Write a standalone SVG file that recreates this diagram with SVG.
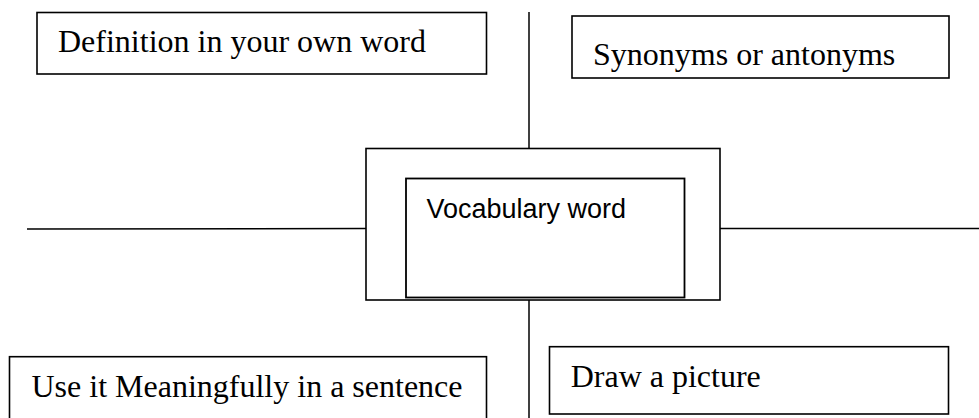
<svg xmlns="http://www.w3.org/2000/svg" width="979" height="418" viewBox="0 0 979 418">
<style>
.box{fill:#fff;stroke:#000;stroke-width:1.6}
.ln{stroke:#000;stroke-width:1.5;fill:none}
.t{font-family:"Liberation Serif","Times New Roman",serif;font-size:32px;fill:#000}
.s{font-family:"Liberation Sans",Arial,sans-serif;font-size:27px;fill:#000}
</style>
<rect width="979" height="418" fill="#fff"/>
<g id="connectors">
<line class="ln" x1="529" y1="12" x2="529" y2="148"/>
<line class="ln" x1="27" y1="229" x2="366" y2="228.5"/>
<line class="ln" x1="720" y1="228.5" x2="979" y2="228.5"/>
<line class="ln" x1="529" y1="296" x2="529" y2="418"/>
</g>
<g id="definition">
<rect class="box" x="37" y="12.5" width="449.5" height="61.5"/>
<text class="t" x="58" y="52">Definition in your own word</text>
</g>
<g id="synonyms">
<rect class="box" x="572" y="16" width="377" height="62"/>
<text class="t" x="593" y="65">Synonyms or antonyms</text>
</g>
<g id="vocabulary">
<rect class="box" x="366" y="148.5" width="354" height="151.5"/>
<rect class="box" x="406" y="178.5" width="278.5" height="119" style="stroke-width:1.8"/>
<text class="s" x="426.5" y="218.3">Vocabulary word</text>
</g>
<g id="sentence">
<rect class="box" x="9.5" y="356.7" width="477" height="80"/>
<text class="t" x="31.5" y="396.7">Use it Meaningfully in a sentence</text>
</g>
<g id="picture">
<rect class="box" x="549.5" y="346.7" width="399" height="67.3"/>
<text class="t" x="570.7" y="386.7">Draw a picture</text>
</g>
</svg>
